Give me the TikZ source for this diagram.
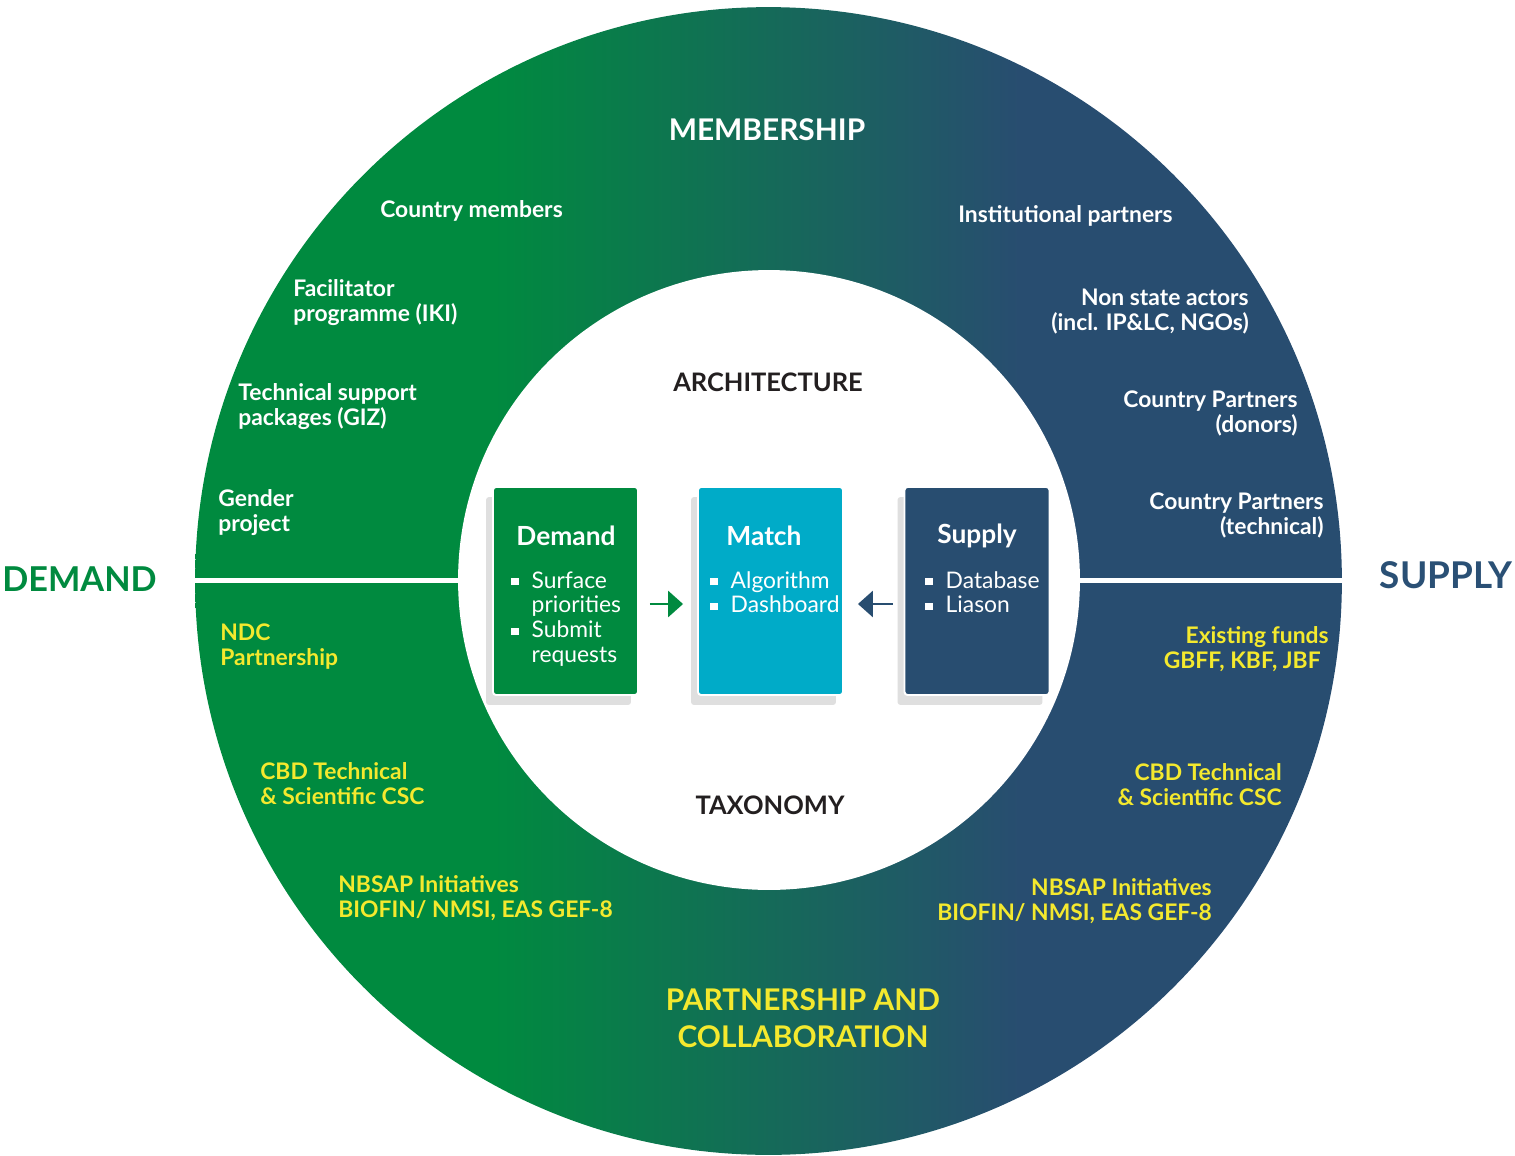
\documentclass[tikz,border=0pt]{standalone}
\usepackage{fontspec}
\setmainfont{Lato}
\usepackage{xcolor}
\usepackage{tikz}
\usetikzlibrary{shapes,arrows.meta,positioning,shadows}

\definecolor{ringgreen}{HTML}{008A3F}
\definecolor{ringblue}{HTML}{284D70}
\definecolor{matchcyan}{HTML}{00ABC8}
\definecolor{labelyellow}{HTML}{F4E92E}
\definecolor{darktext}{HTML}{231F20}
\definecolor{supplyblue}{HTML}{2A5075}

\pgfdeclarehorizontalshading{ringshade}{100bp}{color(0bp)=(ringgreen); color(38bp)=(ringgreen); color(61bp)=(ringblue); color(100bp)=(ringblue)}

\newcommand{\sqbullet}{\raisebox{0.25ex}{\rule{4.2pt}{4.2pt}}}

\begin{document}
\begin{tikzpicture}[
    x=0.02cm, y=-0.02cm,
    wlabel/.style={text=white, font=\fontsize{13}{14.2}\selectfont\bfseries, inner sep=0pt},
    ylabel/.style={text=labelyellow, font=\fontsize{13}{14.2}\selectfont\bfseries, inner sep=0pt},
    head/.style={font=\fontsize{17}{21}\selectfont\bfseries, inner sep=0pt, align=center},
    side/.style={font=\fontsize{19.5}{24}\selectfont\bfseries, inner sep=0pt},
    card/.style={rectangle, rounded corners=0.06cm, draw=white, line width=1.1pt, minimum width=2.9cm, minimum height=4.16cm,
        drop shadow={shadow xshift=-0.14cm, shadow yshift=-0.2cm, opacity=0.25}},
    cardtitle/.style={text=white, font=\fontsize{15}{18}\selectfont\bfseries, inner sep=0pt},
    cardlist/.style={text=white, font=\fontsize{13}{14.2}\selectfont, inner sep=0pt, anchor=base west},
    flow/.style={line width=1.7pt, -{Triangle[width=0.52cm,length=0.3cm]}, shorten <=0.22cm, shorten >=0.28cm}
]
    \useasboundingbox (0,0) rectangle (1515,1156);

    % ring
    \shade[shading=ringshade] (768.5,581) ellipse [x radius=11.47cm, y radius=11.48cm];
    \draw[white, line width=2.85pt] (190,580) -- (1346,580);
    \fill[white] (769,580) ellipse [x radius=6.22cm, y radius=6.2cm];

    % headings
    \node[head, text=white] (memb) at (767,130) {MEMBERSHIP};
    \node[head, text=labelyellow] (partn) at (803,1018) {PARTNERSHIP AND\\COLLABORATION};
    \node[head, text=darktext, font=\fontsize{14.5}{17}\selectfont\bfseries] (arch) at (768,382) {ARCHITECTURE};
    \node[head, text=darktext, font=\fontsize{14.5}{17}\selectfont\bfseries] (tax) at (770,805) {TAXONOMY};
    \node[side, text=ringgreen, anchor=west] (dem) at (2,579) {DEMAND};
    \node[side, text=supplyblue, anchor=east, font=\fontsize{21}{24}\selectfont\bfseries] (sup) at (1513,575) {SUPPLY};

    % membership, demand side
    \node[wlabel, anchor=west] (cm) at (380,211) {Country members};
    \node[wlabel, anchor=west, align=left] (fac) at (293,303) {Facilitator\\programme (IKI)};
    \node[wlabel, anchor=west, align=left] (tsp) at (238,407) {Technical support\\packages (GIZ)};
    \node[wlabel, anchor=west, align=left] (gen) at (218,513) {Gender\\project};
    % membership, supply side
    \node[wlabel, anchor=west] (inst) at (958,216) {Institutional partners};
    \node[wlabel, anchor=east, align=right] (nsa) at (1249,312) {Non state actors\\(incl. IP\&LC, NGOs)};
    \node[wlabel, anchor=east, align=right] (cpd) at (1298,413) {Country Partners\\(donors)};
    \node[wlabel, anchor=east, align=right] (cpt) at (1324,515) {Country Partners\\(technical)};

    % partnerships
    \node[ylabel, anchor=west, align=left] (ndc) at (220,647) {NDC\\Partnership};
    \node[ylabel, anchor=west, align=left] (cbdl) at (260,784) {CBD Technical\\\& Scientific CSC};
    \node[ylabel, anchor=west, align=left] (nbsl) at (338,898) {NBSAP Initiatives\\BIOFIN/ NMSI, EAS GEF-8};
    \node[ylabel, anchor=east, align=right] (exf) at (1329,649) {Existing funds\\GBFF, KBF, JBF\hspace*{0.16cm}};
    \node[ylabel, anchor=east, align=right] (cbdr) at (1282,785) {CBD Technical\\\& Scientific CSC};
    \node[ylabel, anchor=east, align=right] (nbsr) at (1212,901) {NBSAP Initiatives\\BIOFIN/ NMSI, EAS GEF-8};

    % cards
    \node[card, fill=ringgreen] (demand) at (565.5,591) {};
    \node[card, fill=matchcyan] (match) at (770.5,591) {};
    \node[card, fill=ringblue] (supply) at (977,591) {};

    \node[cardtitle] (demandT) at (566,536) {Demand};
    \node[cardtitle] (matchT) at (764,536) {Match};
    \node[cardtitle] (supplyT) at (977,536) {Supply};

    \node[cardlist] (demandL) at (511,588) {\begin{tabular}[t]{@{}l@{\hspace{7.4pt}}l@{}}
        \sqbullet & Surface\\ & priorities\\ \sqbullet & Submit\\ & requests\end{tabular}};
    \node[cardlist] (matchL) at (710,588) {\begin{tabular}[t]{@{}l@{\hspace{7.4pt}}l@{}}
        \sqbullet & Algorithm\\ \sqbullet & Dashboard\end{tabular}};
    \node[cardlist] (supplyL) at (925,588) {\begin{tabular}[t]{@{}l@{\hspace{7.4pt}}l@{}}
        \sqbullet & Database\\ \sqbullet & Liason\end{tabular}};

    \draw[flow, ringgreen] ([yshift=-0.26cm]demand.east) -- ([yshift=-0.26cm]match.west);
    \draw[flow, ringblue] ([yshift=-0.26cm]supply.west) -- ([yshift=-0.26cm]match.east);
\end{tikzpicture}
\end{document}
